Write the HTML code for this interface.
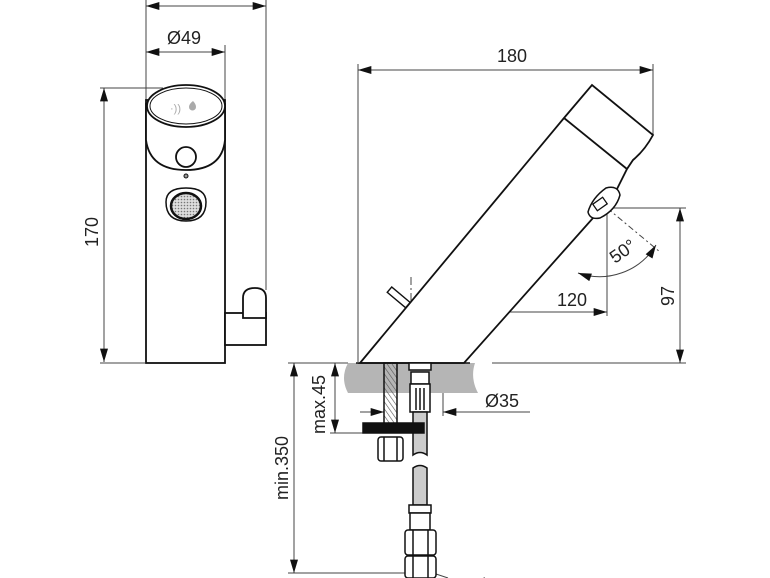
<!DOCTYPE html>
<html><head><meta charset="utf-8"><style>
html,body{margin:0;padding:0;background:#fff}
svg{display:block}
text{font-family:"Liberation Sans",sans-serif;font-size:18px;fill:#222}
</style></head><body>
<svg width="770" height="578" viewBox="0 0 770 578" xmlns="http://www.w3.org/2000/svg">
<defs>
<marker id="a" viewBox="0 0 10 6" refX="10" refY="3" markerWidth="16" markerHeight="8" orient="auto-start-reverse" markerUnits="userSpaceOnUse"><path d="M0,0L10,3L0,6z" fill="#111"/></marker>
<pattern id="h" width="4" height="4" patternUnits="userSpaceOnUse" patternTransform="rotate(-35)"><line x1="0" y1="0" x2="0" y2="4" stroke="#555" stroke-width="1.2"/></pattern>
<pattern id="m" width="3" height="3" patternUnits="userSpaceOnUse"><rect width="3" height="3" fill="#ddd"/><circle cx="1.5" cy="1.5" r="0.8" fill="#777"/></pattern>
</defs>
<g stroke="#444" stroke-width="1" fill="none">
<line x1="146" y1="0" x2="146" y2="100"/><line x1="266" y1="0" x2="266" y2="290"/>
<line x1="146" y1="6" x2="266" y2="6" marker-start="url(#a)" marker-end="url(#a)"/>
<line x1="225" y1="45" x2="225" y2="100"/>
<line x1="146" y1="52" x2="225" y2="52" marker-start="url(#a)" marker-end="url(#a)"/>
<line x1="100" y1="88" x2="163" y2="88"/><line x1="100" y1="363" x2="145" y2="363"/>
<line x1="104" y1="88" x2="104" y2="362" marker-start="url(#a)" marker-end="url(#a)"/>
<line x1="358" y1="64" x2="358" y2="362"/><line x1="653" y1="64" x2="653" y2="135"/>
<line x1="358" y1="70" x2="653" y2="70" marker-start="url(#a)" marker-end="url(#a)"/>
<line x1="607" y1="205" x2="607" y2="316"/>
<line x1="411" y1="312" x2="607" y2="312" marker-start="url(#a)" marker-end="url(#a)"/>
<line x1="607" y1="208" x2="686" y2="208"/><line x1="492" y1="363" x2="686" y2="363"/>
<line x1="680" y1="208" x2="680" y2="363" marker-start="url(#a)" marker-end="url(#a)"/>
<line x1="411" y1="277" x2="411" y2="372" stroke-dasharray="8,3,2,3"/>
<line x1="607" y1="208" x2="660" y2="252" stroke-dasharray="6,3,2,3"/>
<path d="M578,273 A66,66 0 0 0 656,245" marker-start="url(#a)" marker-end="url(#a)"/>
<line x1="288" y1="363" x2="348" y2="363"/><line x1="288" y1="573" x2="410" y2="573"/>
<line x1="294" y1="363" x2="294" y2="573" marker-start="url(#a)" marker-end="url(#a)"/>
<line x1="330" y1="433" x2="365" y2="433"/>
<line x1="335" y1="363" x2="335" y2="433" marker-start="url(#a)" marker-end="url(#a)"/>
<line x1="360" y1="412" x2="384" y2="412" marker-end="url(#a)"/>
<line x1="530" y1="412" x2="443" y2="412" marker-end="url(#a)"/>
<line x1="443" y1="363" x2="443" y2="416"/>
<line x1="436" y1="574" x2="448" y2="578"/>
</g>
<g stroke="#111" stroke-width="1.8" fill="#fff">
<rect x="146" y="100" width="79" height="263"/>
<path d="M146,104 L146,140 Q150,170 186,170 Q222,170 225,140 L225,104 Z"/>
<ellipse cx="186" cy="106" rx="39" ry="21"/>
<ellipse cx="186" cy="106" rx="36" ry="18" stroke-width="1"/>
<circle cx="186" cy="157" r="10"/>
<circle cx="186" cy="176" r="2" stroke-width="1" fill="#999"/>
<path d="M166,202 Q166,188 186,188 Q206,188 206,202 Q206,221 186,221 Q166,221 166,202 Z" stroke-width="1.5"/>
<ellipse cx="186" cy="206" rx="15" ry="13" fill="url(#m)" stroke-width="2.5"/>
<rect x="225" y="313" width="41" height="32"/>
<path d="M243,318 L243,298 Q243,288 255,288 Q266,288 266,298 L266,318 Z"/>
</g>
<text x="170" y="112" style="font-size:11px;fill:#aaa">·))</text>
<path d="M193,101 Q196,104 196,107 A3.5,3.5 0 0 1 189,107 Q189,104 193,101Z" fill="#aaa"/>
<path d="M348,363 L475,363 Q470,378 478,393 L348,393 Q340,378 348,363Z" fill="#b5b5b5"/>
<g stroke="#111" stroke-width="1.8" fill="#fff">
<path d="M360,363 L564,118 L592,85 L653,135 Q645,150 633,160 L627,169 L618,187 Q612,200 593,218 L464,363 Z"/>
<line x1="564" y1="118" x2="627" y2="169"/>
<path d="M588,212 Q592,198 606,188 Q618,185 620,195 Q616,210 600,218 Q590,220 588,212Z" stroke-width="1.5"/>
<rect x="594" y="200" width="12" height="8" transform="rotate(-35 600 204)" stroke-width="1.3"/>
<rect x="387" y="294" width="24" height="7" transform="rotate(40 399 297)" stroke-width="1.4"/>
<path d="M362,362 L466,362" stroke="none"/>
</g>
<line x1="356" y1="363" x2="470" y2="363" stroke="#111" stroke-width="1.5"/>
<g stroke="#111" stroke-width="1.5">
<rect x="384" y="363" width="13" height="62" fill="url(#h)"/>
<rect x="409" y="363" width="22" height="7" fill="#fff"/>
<rect x="411" y="372" width="18" height="12" fill="#fff"/>
<rect x="410" y="384" width="20" height="28" fill="#fff"/>
<line x1="416" y1="388" x2="416" y2="410"/><line x1="420" y1="388" x2="420" y2="410"/><line x1="424" y1="388" x2="424" y2="410"/>
<path d="M413,412 L427,412 L427,455 Q420,450 413,455Z" fill="#ccc"/>
<rect x="363" y="423" width="61" height="10" fill="#111"/>
<rect x="378" y="437" width="25" height="24" rx="3" fill="#fff"/>
<line x1="384" y1="437" x2="384" y2="461"/><line x1="397" y1="437" x2="397" y2="461"/>
<path d="M413,468 Q420,463 427,468 L427,505 L413,505Z" fill="#ccc"/>
<rect x="409" y="505" width="22" height="8" fill="#fff"/>
<rect x="410" y="513" width="20" height="17" fill="#fff"/>
<rect x="405" y="530" width="31" height="25" rx="3" fill="#fff"/>
<line x1="413" y1="530" x2="413" y2="555"/><line x1="428" y1="530" x2="428" y2="555"/>
<rect x="405" y="556" width="31" height="22" rx="3" fill="#fff"/>
<line x1="413" y1="556" x2="413" y2="578"/><line x1="428" y1="556" x2="428" y2="578"/>
</g>
<text x="167" y="44">Ø49</text>
<text x="497" y="62">180</text>
<text x="557" y="306">120</text>
<text x="485" y="407">Ø35</text>
<text x="456" y="591">G3/8</text>
<text transform="translate(98,247) rotate(-90)">170</text>
<text transform="translate(674,306) rotate(-90)">97</text>
<text transform="translate(325,434) rotate(-90)">max.45</text>
<text transform="translate(288,500) rotate(-90)">min.350</text>
<text transform="translate(615,264) rotate(-35)">50°</text>
</svg>
</body></html>
